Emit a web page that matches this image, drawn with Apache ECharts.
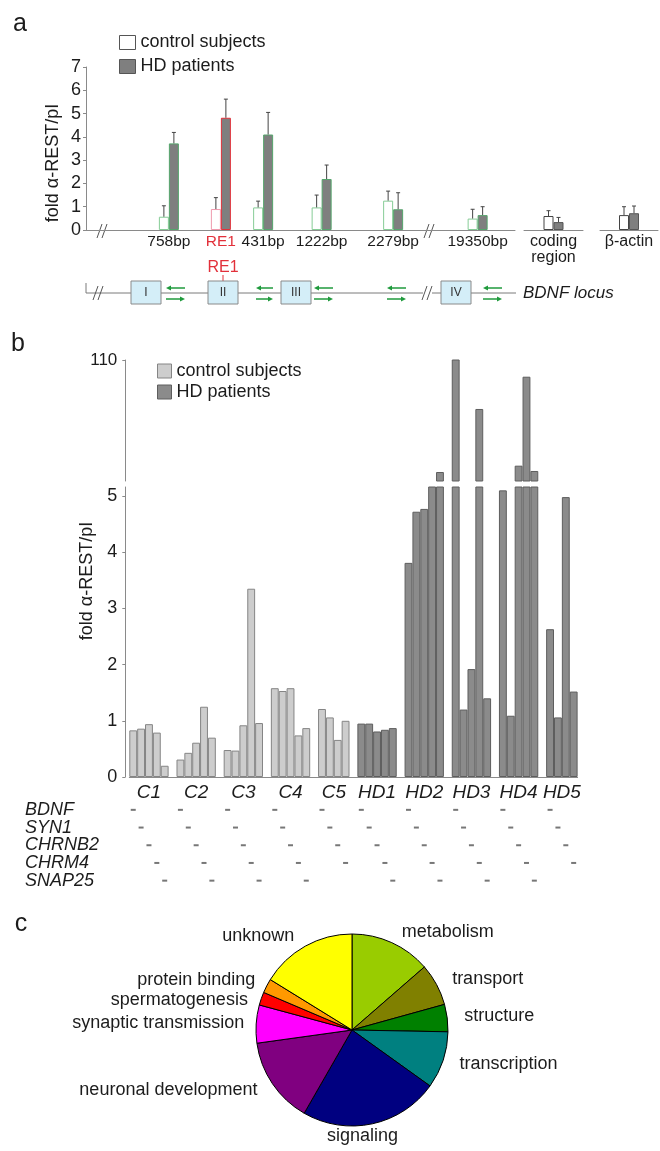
<!DOCTYPE html>
<html>
<head>
<meta charset="utf-8">
<script src="https://cdn.jsdelivr.net/npm/echarts@6/dist/echarts.min.js"></script>
<style>
  html, body { margin: 0; padding: 0; background: #fff; }
  #chart { width: 660px; height: 1151px; }
</style>
</head>
<body>
<div id="chart"></div>
<script>
// ---------------- data ----------------
// a: fold α-REST/pI along the BDNF locus (mean + upper error)
const aSites = ["758bp", "RE1", "431bp", "1222bp", "2279bp", "19350bp"];
const aCtrl = [0.57, 0.9, 0.97, 0.97, 1.26, 0.49];
const aCtrlErr = [0.47, 0.49, 0.27, 0.53, 0.41, 0.4];
const aHd = [3.72, 4.82, 4.1, 2.19, 0.89, 0.64];
const aHdErr = [0.47, 0.8, 0.95, 0.6, 0.71, 0.36];
const aExtra = ["coding\nregion", "β-actin"];
const aExtraCtrl = [0.6, 0.64];
const aExtraCtrlErr = [0.23, 0.36];
const aExtraHd = [0.34, 0.72];
const aExtraHdErr = [0.2, 0.31];

// b: fold α-REST/pI per subject, one value per gene (null = not done)
const genes = ["BDNF", "SYN1", "CHRNB2", "CHRM4", "SNAP25"];
const subjects = ["C1", "C2", "C3", "C4", "C5", "HD1", "HD2", "HD3", "HD4", "HD5"];
const c1 = [0.83, 0.86, 0.94, 0.79, 0.2];
const c2 = [0.31, 0.43, 0.61, 1.25, 0.7];
const c3 = [0.48, 0.47, 0.92, 3.35, 0.96];
const c4 = [1.58, 1.53, 1.58, 0.74, 0.87];
const c5 = [1.21, 1.06, 0.66, 1.0, null];
const hd1 = [0.95, 0.95, 0.81, 0.84, 0.87];
const hd2 = [3.81, 4.72, 4.77, 5.2, 12.8];
const hd3 = [112, 1.2, 1.92, 67.5, 1.4];
const hd4 = [5.1, 1.09, 18.3, 95.5, 13.7];
const hd5 = [2.63, 1.06, 4.98, 1.52, null];
const bLowTicks = [0, 1, 2, 3, 4, 5];
const bHighTicks = [110];

// c: functional classes (share of genes, %)
const cClasses = ["metabolism", "transport", "structure", "transcription", "signaling",
  "neuronal development", "synaptic transmission", "spermatogenesis", "protein binding", "unknown"];
const cShares = [13.6, 7.1, 4.6, 9.6, 23.4, 14.5, 6.4, 2.2, 2.4, 16.2];

// ---------------- style / layout ----------------
const FONT = "Liberation Sans, Arial, Helvetica, sans-serif";
const TXT = "#1c1c1c";
const AXIS = "#8a8a8a";
const cColors = ["#99cc00", "#808000", "#008000", "#008080", "#000080",
  "#800080", "#ff00ff", "#ff0000", "#ff9900", "#ffff00"];

let chart = echarts.init(document.getElementById("chart"));

// panel a: sites sit in slots of a fine category axis
const aSlotCount = 132;
const aSlot = [25, 41, 54, 72, 94, 120];
const aCats = [], aLabels = [];
for (let i = 0; i < aSlotCount; i++) { aCats.push("s" + i); aLabels.push(""); }
aSlot.forEach((k, i) => { aLabels[k] = aSites[i]; });
const reIdx = aSites.indexOf("RE1");

function slotData(vals, styleOf) {
  const d = new Array(aSlotCount).fill("-");
  aSlot.forEach((k, i) => { d[k] = { value: vals[i], itemStyle: styleOf(i) }; });
  return d;
}
const ctrlStyle = i => i === reIdx
  ? { color: "#fff", borderColor: "#f09aae", borderWidth: 1 }
  : { color: "#fff", borderColor: "#86cc96", borderWidth: 1 };
const hdStyle = i => i === reIdx
  ? { color: "#7f7f7f", borderColor: "#e2303a", borderWidth: 1 }
  : { color: "#7f7f7f", borderColor: "#55a56c", borderWidth: 1 };

//误差线 error bar (upward only)
function errBar(params, api) {
  const side = api.value(3);
  const base = api.coord([api.value(0), api.value(1)]);
  const top = api.coord([api.value(0), api.value(2)]);
  const x = base[0] + side * 5;
  const st = { stroke: "#444", lineWidth: 1 };
  return {
    type: "group",
    children: [
      { type: "line", shape: { x1: x, y1: base[1], x2: x, y2: top[1] }, style: st },
      { type: "line", shape: { x1: x - 2, y1: top[1], x2: x + 2, y2: top[1] }, style: st }
    ]
  };
}
const aErr = [];
aSlot.forEach((k, i) => {
  aErr.push([k, aCtrl[i], aCtrl[i] + aCtrlErr[i], -1]);
  aErr.push([k, aHd[i], aHd[i] + aHdErr[i], 1]);
});

// panel b: one category per bar, a spacer between subjects
const bFold = [c1, c2, c3, c4, c5, hd1, hd2, hd3, hd4, hd5];
const bCats = [], bCtrl = [], bHd = [], bLab = [], bDash = [];
subjects.forEach((s, i) => {
  if (i > 0) { bCats.push("gap" + i); bCtrl.push("-"); bHd.push("-"); bLab.push(""); }
  const vals = bFold[i];
  const present = [];
  vals.forEach((v, g) => { if (v != null) present.push(g); });
  const isHd = s.indexOf("HD") === 0;
  present.forEach((g, k) => {
    const idx = bCats.length;
    bCats.push(s + "-" + genes[g]);
    bCtrl.push(isHd ? "-" : vals[g]);
    bHd.push(isHd ? vals[g] : "-");
    let lab = "";
    if (present.length === 5 && k === 2) lab = s;
    if (present.length === 4 && k === 1) lab = "{sh|" + s + "}";
    bLab.push(lab);
    bDash.push([idx, g]);
  });
});
const bLowMax = 5.16;
const bHighMin = 5;
const bCtrlHigh = bCtrl.map(v => (v !== "-" && v > bLowMax) ? v : "-");
const bHdHigh = bHd.map(v => (v !== "-" && v > bLowMax) ? v : "-");

const bCtrlItem = { color: "#cdcdcd", borderColor: "#858585", borderWidth: 1 };
const bHdItem = { color: "#8b8b8b", borderColor: "#5e5e5e", borderWidth: 1 };

// BDNF locus sketch (graphic)
const green = "#1f9a3c";
function arrowPair(x0, x1) {
  return [
    { type: "line", shape: { x1: x0 + 4, y1: 288, x2: x1, y2: 288 }, style: { stroke: green, lineWidth: 1.5 } },
    { type: "polygon", shape: { points: [[x0, 288], [x0 + 5, 285.5], [x0 + 5, 290.5]] }, style: { fill: green } },
    { type: "line", shape: { x1: x0, y1: 299, x2: x1 - 4, y2: 299 }, style: { stroke: green, lineWidth: 1.5 } },
    { type: "polygon", shape: { points: [[x1, 299], [x1 - 5, 296.5], [x1 - 5, 301.5]] }, style: { fill: green } }
  ];
}
function exonBox(x, w, label) {
  return [
    { type: "rect", shape: { x: x, y: 281, width: w, height: 23 }, style: { fill: "#d4eef8", stroke: "#8a8a8a", lineWidth: 1 } },
    { type: "text", x: x + w / 2, y: 292.5, style: { text: label, fontSize: 12, fontFamily: FONT, fill: "#333", align: "center", verticalAlign: "middle" } }
  ];
}
function breakMark(x, y) {
  const st = { stroke: "#555", lineWidth: 1 };
  return [
    { type: "line", shape: { x1: x, y1: y + 7, x2: x + 5, y2: y - 7 }, style: st },
    { type: "line", shape: { x1: x + 5, y1: y + 7, x2: x + 10, y2: y - 7 }, style: st }
  ];
}
const lineSt = { stroke: "#7a7a7a", lineWidth: 1 };
let locus = [
  { type: "line", shape: { x1: 86, y1: 283, x2: 86, y2: 293 }, style: lineSt },
  { type: "line", shape: { x1: 86, y1: 293, x2: 423, y2: 293 }, style: lineSt },
  { type: "line", shape: { x1: 432, y1: 293, x2: 516, y2: 293 }, style: lineSt },
  { type: "line", shape: { x1: 223, y1: 275, x2: 223, y2: 281 }, style: { stroke: "#e2303a", lineWidth: 1 } },
  { type: "text", x: 223, y: 268, style: { text: "RE1", fontSize: 16, fontFamily: FONT, fill: "#e2303a", align: "center", verticalAlign: "middle" } },
  { type: "text", x: 523, y: 293, style: { text: "BDNF locus", fontSize: 17, fontStyle: "italic", fontFamily: FONT, fill: TXT, align: "left", verticalAlign: "middle" } }
];
locus = locus.concat(breakMark(93, 293), breakMark(422, 293),
  breakMark(97, 231), breakMark(424, 231),
  exonBox(131, 30, "I"), exonBox(208, 30, "II"), exonBox(281, 30, "III"), exonBox(441, 30, "IV"),
  arrowPair(166, 185), arrowPair(256, 273), arrowPair(314, 333), arrowPair(387, 406), arrowPair(483, 502));

const panelText = [
  { type: "text", x: 20, y: 24, style: { text: "a", fontSize: 25, fontFamily: FONT, fill: TXT, align: "center", verticalAlign: "middle" } },
  { type: "text", x: 18, y: 344, style: { text: "b", fontSize: 25, fontFamily: FONT, fill: TXT, align: "center", verticalAlign: "middle" } },
  { type: "text", x: 21, y: 924, style: { text: "c", fontSize: 25, fontFamily: FONT, fill: TXT, align: "center", verticalAlign: "middle" } },
  { type: "text", x: 53, y: 163, rotation: Math.PI / 2, style: { text: "fold α-REST/pI", fontSize: 18, fontFamily: FONT, fill: TXT, align: "center", verticalAlign: "middle" } },
  { type: "text", x: 87, y: 581, rotation: Math.PI / 2, style: { text: "fold α-REST/pI", fontSize: 18, fontFamily: FONT, fill: TXT, align: "center", verticalAlign: "middle" } }
];

const hiddenAxis = { axisLine: { show: false }, axisTick: { show: false }, axisLabel: { show: false }, splitLine: { show: false } };
const aYAxis = (grid, show) => Object.assign({
  gridIndex: grid, type: "value", min: 0, max: 7, interval: 1
}, show ? {
  axisLine: { show: true, lineStyle: { color: AXIS } },
  axisTick: { show: true, length: 3, lineStyle: { color: AXIS } },
  axisLabel: { margin: 5, fontSize: 18, color: TXT },
  splitLine: { show: false }
} : hiddenAxis);

const sigIdx = cClasses.indexOf("signaling");

let option = {
  animation: false,
  textStyle: { fontFamily: FONT },
  graphic: panelText.concat(locus),
  legend: [
    {
      left: 114, top: 28.5, orient: "vertical", icon: "rect", itemWidth: 16, itemHeight: 14, itemGap: 6,
      selectedMode: false, textStyle: { fontSize: 18, color: TXT },
      data: [
        { name: "control subjects", itemStyle: { color: "#fff", borderColor: "#555", borderWidth: 1 } },
        { name: "HD patients", itemStyle: { color: "#7f7f7f", borderColor: "#555", borderWidth: 1 } }
      ]
    },
    {
      left: 152, top: 357, orient: "vertical", icon: "rect", itemWidth: 14, itemHeight: 14, itemGap: 3,
      selectedMode: false, textStyle: { fontSize: 18, color: TXT },
      data: [
        { name: "control subjects", itemStyle: { color: "#cdcdcd", borderColor: "#858585", borderWidth: 1 } },
        { name: "HD patients", itemStyle: { color: "#8b8b8b", borderColor: "#5e5e5e", borderWidth: 1 } }
      ]
    }
  ],
  grid: [
    { left: 86, right: 145, top: 67, bottom: 921, outerBoundsMode: "none" },
    { left: 524, right: 77, top: 67, bottom: 921, outerBoundsMode: "none" },
    { left: 600, right: 2, top: 67, bottom: 921, outerBoundsMode: "none" },
    { left: 129.3, right: 82.4, top: 360, bottom: 670, outerBoundsMode: "none" },
    { left: 129.3, right: 82.4, top: 487, bottom: 374, outerBoundsMode: "none" },
    { left: 129.3, right: 82.4, top: 801, bottom: 261.5, outerBoundsMode: "none" }
  ],
  xAxis: [
    {
      gridIndex: 0, type: "category", data: aCats,
      axisLine: { lineStyle: { color: AXIS } }, axisTick: { show: false },
      axisLabel: {
        interval: 0, margin: 4, fontSize: 15.5, color: TXT,
        formatter: (v, i) => i === aSlot[reIdx] ? "{re|RE1}" : aLabels[i],
        rich: { re: { color: "#e2303a", fontSize: 15.5, fontFamily: FONT } }
      }
    },
    {
      gridIndex: 1, type: "category", data: [aExtra[0]],
      axisLine: { lineStyle: { color: AXIS } }, axisTick: { show: false },
      axisLabel: { interval: 0, margin: 4, fontSize: 16, lineHeight: 16, color: TXT }
    },
    {
      gridIndex: 2, type: "category", data: [aExtra[1]],
      axisLine: { lineStyle: { color: AXIS } }, axisTick: { show: false },
      axisLabel: { interval: 0, margin: 4, fontSize: 16, color: TXT }
    },
    Object.assign({ gridIndex: 3, type: "category", data: bCats }, hiddenAxis),
    {
      gridIndex: 4, type: "category", data: bCats,
      axisLine: { lineStyle: { color: AXIS } }, axisTick: { show: false },
      axisLabel: {
        interval: 0, margin: 6, fontSize: 19, fontStyle: "italic", color: TXT,
        formatter: (v, i) => bLab[i],
        rich: { sh: { padding: [0, 0, 0, 7.9], fontSize: 19, fontStyle: "italic", color: TXT, fontFamily: FONT } }
      }
    },
    Object.assign({ gridIndex: 5, type: "category", data: bCats }, hiddenAxis)
  ],
  yAxis: [
    aYAxis(0, true),
    aYAxis(1, false),
    aYAxis(2, false),
    {
      gridIndex: 3, type: "value", min: bHighMin, max: 110, offset: 4,
      axisLine: { show: true, lineStyle: { color: AXIS } },
      axisTick: { show: true, length: 3, customValues: bHighTicks, lineStyle: { color: AXIS } },
      axisLabel: { margin: 8, fontSize: 17, color: TXT, customValues: bHighTicks },
      splitLine: { show: false }
    },
    {
      gridIndex: 4, type: "value", min: 0, max: bLowMax, offset: 4,
      axisLine: { show: true, lineStyle: { color: AXIS } },
      axisTick: { show: true, length: 3, customValues: bLowTicks, lineStyle: { color: AXIS } },
      axisLabel: { margin: 8, fontSize: 18, color: TXT, customValues: bLowTicks },
      splitLine: { show: false }
    },
    {
      gridIndex: 5, type: "category", data: genes, inverse: true,
      axisLine: { show: false }, axisTick: { show: false }, splitLine: { show: false },
      axisLabel: { interval: 0, align: "left", margin: 104.3, fontSize: 18, fontStyle: "italic", color: TXT }
    }
  ],
  series: [
    // a: locus sites
    { name: "control subjects", type: "bar", xAxisIndex: 0, yAxisIndex: 0, barWidth: 10, barGap: "0%", data: slotData(aCtrl, ctrlStyle) },
    { name: "HD patients", type: "bar", xAxisIndex: 0, yAxisIndex: 0, barWidth: 10, barGap: "0%", data: slotData(aHd, hdStyle) },
    { name: "a-err", type: "custom", xAxisIndex: 0, yAxisIndex: 0, renderItem: errBar, encode: { x: 0, y: [1, 2] }, data: aErr, z: 3 },
    // a: coding region
    { name: "control subjects", type: "bar", xAxisIndex: 1, yAxisIndex: 1, barWidth: 10, barGap: "0%",
      data: [aExtraCtrl[0]], itemStyle: { color: "#fff", borderColor: "#444", borderWidth: 1 } },
    { name: "HD patients", type: "bar", xAxisIndex: 1, yAxisIndex: 1, barWidth: 10, barGap: "0%",
      data: [aExtraHd[0]], itemStyle: { color: "#7f7f7f", borderColor: "#555", borderWidth: 1 } },
    { name: "coding-err", type: "custom", xAxisIndex: 1, yAxisIndex: 1, renderItem: errBar, encode: { x: 0, y: [1, 2] }, z: 3,
      data: [[0, aExtraCtrl[0], aExtraCtrl[0] + aExtraCtrlErr[0], -1], [0, aExtraHd[0], aExtraHd[0] + aExtraHdErr[0], 1]] },
    // a: β-actin
    { name: "control subjects", type: "bar", xAxisIndex: 2, yAxisIndex: 2, barWidth: 10, barGap: "0%",
      data: [aExtraCtrl[1]], itemStyle: { color: "#fff", borderColor: "#444", borderWidth: 1 } },
    { name: "HD patients", type: "bar", xAxisIndex: 2, yAxisIndex: 2, barWidth: 10, barGap: "0%",
      data: [aExtraHd[1]], itemStyle: { color: "#7f7f7f", borderColor: "#555", borderWidth: 1 } },
    { name: "actin-err", type: "custom", xAxisIndex: 2, yAxisIndex: 2, renderItem: errBar, encode: { x: 0, y: [1, 2] }, z: 3,
      data: [[0, aExtraCtrl[1], aExtraCtrl[1] + aExtraCtrlErr[1], -1], [0, aExtraHd[1], aExtraHd[1] + aExtraHdErr[1], 1]] },
    // b: upper (broken) part
    { name: "control subjects", type: "bar", xAxisIndex: 3, yAxisIndex: 3, barGap: "-100%", barCategoryGap: "0%", clip: true,
      data: bCtrlHigh, itemStyle: bCtrlItem },
    { name: "HD patients", type: "bar", xAxisIndex: 3, yAxisIndex: 3, barGap: "-100%", barCategoryGap: "0%", clip: true,
      data: bHdHigh, itemStyle: bHdItem },
    // b: lower part
    { name: "control subjects", type: "bar", xAxisIndex: 4, yAxisIndex: 4, barGap: "-100%", barCategoryGap: "0%", clip: true,
      data: bCtrl, itemStyle: bCtrlItem },
    { name: "HD patients", type: "bar", xAxisIndex: 4, yAxisIndex: 4, barGap: "-100%", barCategoryGap: "0%", clip: true,
      data: bHd, itemStyle: bHdItem },
    // b: which gene each bar is
    { name: "genes", type: "scatter", xAxisIndex: 5, yAxisIndex: 5, symbol: "rect", symbolSize: [5, 2],
      itemStyle: { color: "#555" }, data: bDash },
    // c: pie
    {
      name: "classes", type: "pie", center: [352, 1030], radius: 96, startAngle: 90, clockwise: true,
      data: cClasses.map((n, i) => ({ name: n, value: cShares[i], itemStyle: { color: cColors[i] } })),
      itemStyle: { borderColor: "#000", borderWidth: 1 },
      label: { show: true, position: "outside", fontSize: 18, color: TXT, fontFamily: FONT },
      labelLine: { show: false, length: 12, length2: 0 },
      labelLayout: p => p.dataIndex === sigIdx ? { dx: -53 } : null,
      emphasis: { disabled: true }
    }
  ]
};
chart.setOption(option);
</script>
</body>
</html>
